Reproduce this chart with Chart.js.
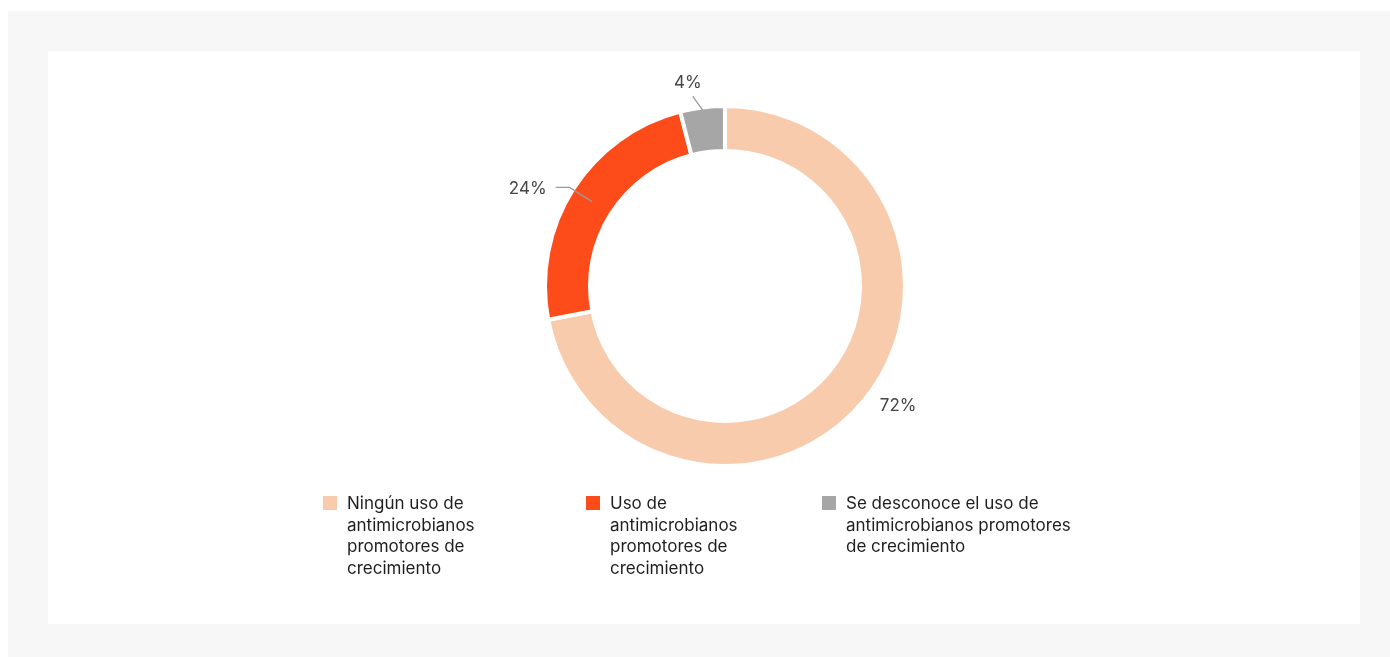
<!DOCTYPE html>
<html>
<head>
<meta charset="utf-8">
<script src="https://cdn.jsdelivr.net/npm/chart.js@4.4.1/dist/chart.umd.min.js"></script>
<style>
  body { margin: 0; background: #fff; font-family: Inter, "Noto Sans", sans-serif; }
  .frame { position: absolute; left: 8px; top: 11px; width: 1382px; height: 646px; background: #f7f7f7; }
  .panel { position: absolute; left: 40px; top: 40px; width: 1312px; height: 573px; background: #fff; }
  .chart-box { position: absolute; left: 475px; top: 61px; width: 500px; height: 450px; }
  .legend { position: absolute; left: 323px; top: 493px; display: flex; }
  .legend-item { display: flex; align-items: flex-start; }
  .legend-item .swatch { width: 14px; height: 14px; margin-top: 3px; margin-right: 10px; flex: none; }
  .legend-item .txt { font-size: 17px; line-height: 21.7px; color: #1e1e1e; }
</style>
</head>
<body>
<div class="frame"><div class="panel"></div></div>
<div class="chart-box"><canvas id="donut"></canvas></div>
<div class="legend" id="legend"></div>

<script>
var categories = [
  'Ningún uso de antimicrobianos promotores de crecimiento',
  'Uso de antimicrobianos promotores de crecimiento',
  'Se desconoce el uso de antimicrobianos promotores de crecimiento'
];
var shares = [72, 24, 4];
var colors = ['#f8cbad', '#fd4c19', '#a6a6a6'];

// legend column widths (swatch + text block)
var itemWidths = [263, 236, 280];
var textWidths = [150, 150, 238];

var legend = document.getElementById('legend');
categories.forEach(function (name, i) {
  var item = document.createElement('div');
  item.className = 'legend-item';
  item.style.width = itemWidths[i] + 'px';
  var sw = document.createElement('span');
  sw.className = 'swatch';
  sw.style.background = colors[i];
  var t = document.createElement('span');
  t.className = 'txt';
  t.style.width = textWidths[i] + 'px';
  t.textContent = name;
  item.appendChild(sw);
  item.appendChild(t);
  legend.appendChild(item);
});

// percentage labels outside the ring, with leader lines where needed
var sliceLabels = {
  id: 'sliceLabels',
  afterDatasetsDraw: function (chart) {
    var ctx = chart.ctx;
    var arcs = chart.getDatasetMeta(0).data;
    ctx.save();
    ctx.font = '17px Inter, "Noto Sans", sans-serif';
    ctx.fillStyle = '#454545';
    ctx.strokeStyle = '#9a9a9a';
    ctx.lineWidth = 1.3;
    arcs.forEach(function (a, i) {
      var mid = (a.startAngle + a.endAngle) / 2;
      var c = Math.cos(mid), s = Math.sin(mid);
      var outer = a.outerRadius, inner = a.innerRadius;
      var txt = shares[i] + '%';
      if (s < -0.9) {
        // small slice at the top: short slanted tick, label above it
        var sx = a.x + c * (outer - 3), sy = a.y + s * (outer - 3);
        var ex = sx - 10, ey = sy - 14;
        ctx.beginPath(); ctx.moveTo(sx, sy); ctx.lineTo(ex, ey); ctx.stroke();
        ctx.textAlign = 'center'; ctx.textBaseline = 'middle';
        ctx.fillText(txt, ex - 5, ey - 14);
      } else if (c < 0) {
        var rm = (outer + inner) / 2;
        var x1 = a.x + c * rm, y1 = a.y + s * rm;
        var x2 = a.x + c * (outer + 4), y2 = a.y + s * (outer + 4);
        var x3 = x2 - 14;
        ctx.beginPath(); ctx.moveTo(x1, y1); ctx.lineTo(x2, y2); ctx.lineTo(x3, y2); ctx.stroke();
        ctx.textAlign = 'right'; ctx.textBaseline = 'middle';
        ctx.fillText(txt, x3 - 9, y2 + 1);
      } else {
        var r = outer + 21;
        ctx.textAlign = 'left'; ctx.textBaseline = 'bottom';
        ctx.fillText(txt, a.x + c * r, a.y + s * r);
      }
    });
    ctx.restore();
  }
};

new Chart(document.getElementById('donut'), {
  type: 'doughnut',
  data: {
    labels: categories,
    datasets: [{
      data: shares,
      backgroundColor: colors,
      borderColor: '#fff',
      borderWidth: 4,
      hoverOffset: 0
    }]
  },
  options: {
    responsive: true,
    maintainAspectRatio: false,
    animation: false,
    radius: 180,
    cutout: '75%',
    layout: { padding: 0 },
    plugins: {
      legend: { display: false },
      tooltip: { enabled: false }
    }
  },
  plugins: [sliceLabels]
});
</script>
</body>
</html>
